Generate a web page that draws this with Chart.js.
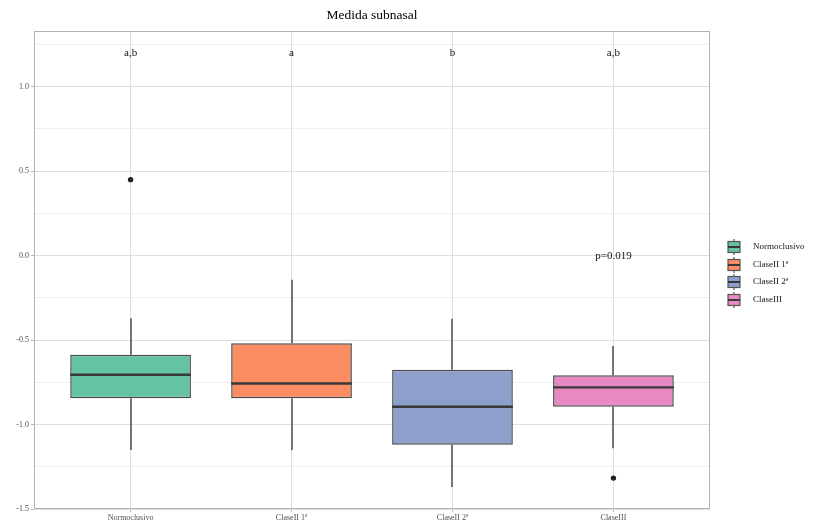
<!DOCTYPE html>
<html>
<head>
<meta charset="utf-8">
<script src="https://cdn.jsdelivr.net/npm/chart.js@4/dist/chart.umd.min.js"></script>
<style>
  html, body { margin: 0; padding: 0; background: #ffffff; }
  #wrap { width: 819px; height: 522px; }
</style>
</head>
<body>
<div id="wrap"><canvas id="c" width="819" height="522"></canvas></div>
<script>
// Groups and summary statistics of the subnasal measurement
const categories  = ['Normoclusivo', 'ClaseII 1ª', 'ClaseII 2ª', 'ClaseIII'];
const whiskerLow  = [-1.15, -1.15, -1.37, -1.14];
const q1          = [-0.845, -0.845, -1.12, -0.895];
const median      = [-0.705, -0.757, -0.895, -0.78];
const q3          = [-0.587, -0.518, -0.676, -0.708];
const whiskerHigh = [-0.37, -0.143, -0.373, -0.535];
const outlierGroup = [1, 4];
const outlierValue = [0.45, -1.317];
const letters     = ['a,b', 'a', 'b', 'a,b'];
const letterY     = 1.2;
const pLabel      = 'p=0.019';
const pGroup      = 4;
const pY          = 0.0;
const yTicks      = [-1.5, -1.0, -0.5, 0.0, 0.5, 1.0];

const fills = ['#66C2A5', '#FC8D62', '#8DA0CB', '#E78AC3'];
const ink = '#4A4A4A';
const serif = '"Liberation Serif", "DejaVu Serif", serif';

const boxParts = {
  id: 'boxParts',
  beforeDatasetsDraw(chart) {
    const { ctx } = chart;
    const xs = chart.scales.x, ys = chart.scales.y;
    ctx.save();
    ctx.strokeStyle = '#555555';
    ctx.lineWidth = 1.6;
    categories.forEach((c, i) => {
      const x = Math.round(xs.getPixelForValue(i + 1));
      ctx.beginPath();
      ctx.moveTo(x, ys.getPixelForValue(whiskerHigh[i]));
      ctx.lineTo(x, ys.getPixelForValue(q3[i]));
      ctx.moveTo(x, ys.getPixelForValue(q1[i]));
      ctx.lineTo(x, ys.getPixelForValue(whiskerLow[i]));
      ctx.stroke();
    });
    ctx.restore();
  },
  afterDatasetsDraw(chart) {
    const { ctx } = chart;
    const xs = chart.scales.x, ys = chart.scales.y;
    const bars = chart.getDatasetMeta(0).data;
    ctx.save();
    // medians
    ctx.strokeStyle = '#383838';
    ctx.lineWidth = 2.4;
    categories.forEach((c, i) => {
      const b = bars[i];
      const y = ys.getPixelForValue(median[i]);
      ctx.beginPath();
      ctx.moveTo(b.x - b.width / 2, y);
      ctx.lineTo(b.x + b.width / 2, y);
      ctx.stroke();
    });
    // group letters
    ctx.fillStyle = '#111111';
    ctx.font = '11px ' + serif;
    ctx.textAlign = 'center';
    ctx.textBaseline = 'middle';
    letters.forEach((t, i) => {
      ctx.fillText(t, xs.getPixelForValue(i + 1), ys.getPixelForValue(letterY));
    });
    ctx.fillText(pLabel, xs.getPixelForValue(pGroup), ys.getPixelForValue(pY));
    ctx.restore();
  },
  afterDraw(chart) {
    const { ctx, chartArea: a } = chart;
    ctx.save();
    // panel border
    ctx.strokeStyle = '#B3B3B3';
    ctx.lineWidth = 1;
    ctx.strokeRect(Math.round(a.left) + 0.5, Math.round(a.top) + 0.5,
                   Math.round(a.right - a.left) - 1, Math.round(a.bottom - a.top) - 1);
    // title
    ctx.fillStyle = '#000000';
    ctx.font = '13.5px ' + serif;
    ctx.textAlign = 'center';
    ctx.textBaseline = 'middle';
    ctx.fillText('Medida subnasal', (a.left + a.right) / 2, 15);
    // legend with box glyphs
    const kx = 734, ky0 = 247, step = 17.6;
    ctx.font = '9px ' + serif;
    ctx.textAlign = 'left';
    categories.forEach((c, i) => {
      const cy = Math.round(ky0 + i * step);
      ctx.strokeStyle = '#555555';
      ctx.lineWidth = 1.2;
      ctx.beginPath();
      ctx.moveTo(kx, cy - 8);
      ctx.lineTo(kx, cy + 8);
      ctx.stroke();
      ctx.fillStyle = fills[i];
      ctx.fillRect(kx - 6, cy - 5.5, 12, 11);
      ctx.strokeRect(kx - 6, cy - 5.5, 12, 11);
      ctx.lineWidth = 2;
      ctx.strokeStyle = '#383838';
      ctx.beginPath();
      ctx.moveTo(kx - 6, cy);
      ctx.lineTo(kx + 6, cy);
      ctx.stroke();
      ctx.fillStyle = '#111111';
      ctx.fillText(c, 753, cy);
    });
    ctx.restore();
  }
};

new Chart(document.getElementById('c'), {
  data: {
    datasets: [
      {
        type: 'bar',
        data: categories.map((c, i) => ({ x: i + 1, y: [q1[i], q3[i]] })),
        backgroundColor: fills,
        borderColor: ink,
        borderWidth: 1.5,
        borderSkipped: false,
        barPercentage: 0.75,
        categoryPercentage: 1.0
      },
      {
        type: 'scatter',
        data: outlierGroup.map((g, i) => ({ x: g, y: outlierValue[i] })),
        backgroundColor: '#222222',
        borderColor: '#222222',
        pointRadius: 2.7,
        borderWidth: 0
      }
    ]
  },
  options: {
    responsive: false,
    animation: false,
    devicePixelRatio: 1,
    layout: { padding: { top: 31, right: 109, left: 0, bottom: 0 } },
    plugins: {
      legend: { display: false },
      title: { display: false },
      tooltip: { enabled: false }
    },
    scales: {
      x: {
        type: 'linear',
        min: 0.4,
        max: 4.6,
        offset: false,
        afterBuildTicks(scale) {
          scale.ticks = categories.map((c, i) => ({ value: i + 1 }));
        },
        afterFit(scale) { scale.height = 13; },
        border: { display: false },
        grid: {
          offset: false,
          color: '#DEDEDE',
          lineWidth: 1,
          tickLength: 3,
          tickColor: '#B3B3B3'
        },
        ticks: {
          padding: 1,
          color: '#4D4D4D',
          font: { family: serif, size: 8 },
          maxRotation: 0,
          autoSkip: false,
          callback: (v) => categories[Math.round(v) - 1] || ''
        }
      },
      y: {
        type: 'linear',
        min: -1.5,
        max: 1.33,
        afterBuildTicks(scale) {
          const t = [];
          for (let k = 0; k < yTicks.length; k++) {
            t.push({ value: yTicks[k] });
            if (k < yTicks.length - 1) t.push({ value: (yTicks[k] + yTicks[k + 1]) / 2 });
          }
          t.push({ value: yTicks[yTicks.length - 1] + 0.25 });
          scale.ticks = t;
        },
        afterFit(scale) { scale.width = 34; },
        border: { display: false },
        grid: {
          color: '#DEDEDE',
          lineWidth: (ctx) => (yTicks.some(v => Math.abs(v - ctx.tick.value) < 1e-6) ? 1 : 0.5),
          tickLength: 3,
          tickColor: (ctx) => (yTicks.some(v => Math.abs(v - ctx.tick.value) < 1e-6) ? '#B3B3B3' : 'rgba(0,0,0,0)')
        },
        ticks: {
          padding: 2,
          color: '#4D4D4D',
          font: { family: serif, size: 8 },
          autoSkip: false,
          callback: (v) => (yTicks.some(t => Math.abs(t - v) < 1e-6) ? Number(v).toFixed(1) : '')
        }
      }
    }
  },
  plugins: [boxParts]
});
</script>
</body>
</html>
